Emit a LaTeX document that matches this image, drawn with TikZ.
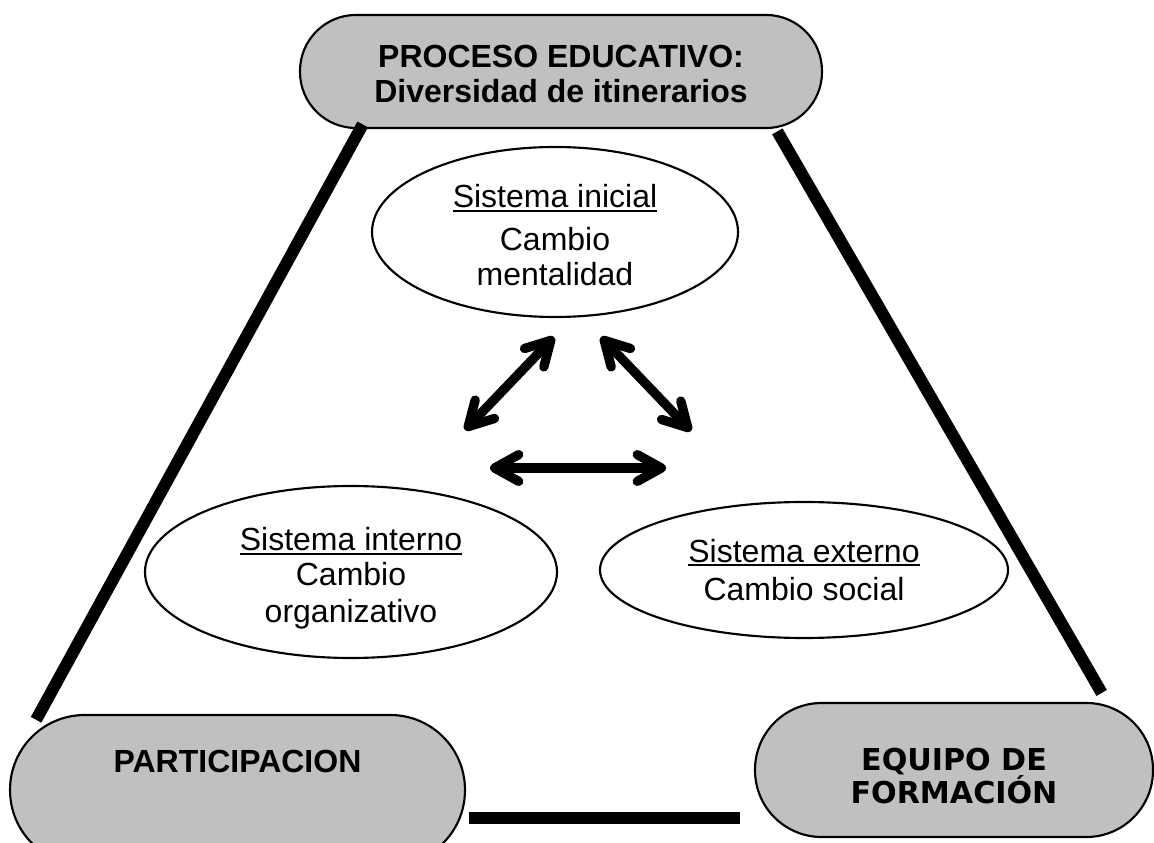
\documentclass[tikz,border=0pt]{standalone}
\usepackage{fontspec}
\setmainfont{Liberation Sans}
\newfontfamily\verdana{DejaVu Sans}
\usetikzlibrary{shapes.geometric,arrows.meta}
\definecolor{grisnodo}{HTML}{C0C0C0}
\newsavebox\cajasub
\newcommand{\subrayado}[1]{\sbox\cajasub{#1}\rlap{\rule[-1.6pt]{\wd\cajasub}{0.8pt}}\usebox\cajasub}

\begin{document}
\begin{tikzpicture}[x=0.375pt,y=-0.375pt,
  font=\fontsize{12pt}{13pt}\selectfont,
  caja/.style={draw,line width=0.8pt,fill=grisnodo,align=center,inner sep=0pt,
    font=\fontsize{12pt}{13pt}\selectfont\bfseries},
  sistema/.style={draw,ellipse,line width=0.8pt,align=center,inner sep=0pt},
  lado/.style={line width=4.5pt},
  flecha/.style={line width=3.5pt,
    {Straight Barb[length=9pt,width=10pt,round]}-{Straight Barb[length=9pt,width=10pt,round]}}]
\useasboundingbox (0,0) rectangle (1154,843);
\clip (0,0) rectangle (1154,843);

% cajas grises
\node[caja,minimum width=195.75pt,minimum height=42.4pt,rounded corners=21pt]
  (proceso) at (561,71.5) {\rule{0pt}{10pt}PROCESO EDUCATIVO:\\Diversidad de itinerarios};
\node[caja,minimum width=170.6pt,minimum height=56.25pt,rounded corners=28pt,
  text height=8.6pt,text depth=21.4pt]
  (participacion) at (237.5,790) {PARTICIPACION};
\node[caja,minimum width=149.25pt,minimum height=50.25pt,rounded corners=25pt,
  font=\verdana\bfseries\fontsize{11.3pt}{12.4pt}\selectfont]
  (equipo) at (954,770) {\rule{0pt}{13pt}EQUIPO DE\\FORMACIÓN};

% sistemas
\node[sistema,minimum width=137.25pt,minimum height=63.75pt]
  (inicial) at (555,232) {\rule{0pt}{11pt}\subrayado{Sistema inicial}\\[3pt]Cambio\\mentalidad};
\node[sistema,minimum width=154.5pt,minimum height=64.5pt]
  (interno) at (351,572) {\rule{0pt}{13.5pt}\subrayado{Sistema interno}\\Cambio\\[1pt]organizativo};
\node[sistema,minimum width=153pt,minimum height=51pt]
  (externo) at (804,570) {\subrayado{Sistema externo}\\[1.5pt]Cambio social};

% lados
\draw[lado,shorten <=-2pt,shorten >=-2.5pt] (proceso.196) -- (participacion.159);
\draw[lado,shorten <=1pt,shorten >=3.9pt] (proceso.345.5) -- (equipo.24);
\draw[lado,shorten <=1.1pt,shorten >=5.25pt] (participacion.-7) -- (participacion.-7 -| equipo.west);

% flechas
\coordinate (izq-abajo) at (465,430);
\coordinate (izq-arriba) at (554,337);
\coordinate (der-arriba) at (601,337);
\coordinate (der-abajo) at (691,431);
\coordinate (hor-izq) at (490,468);
\coordinate (hor-der) at (666,468);
\draw[flecha] (izq-abajo) -- (izq-arriba);
\draw[flecha] (der-arriba) -- (der-abajo);
\draw[flecha] (hor-izq) -- (hor-der);
\end{tikzpicture}
\end{document}
